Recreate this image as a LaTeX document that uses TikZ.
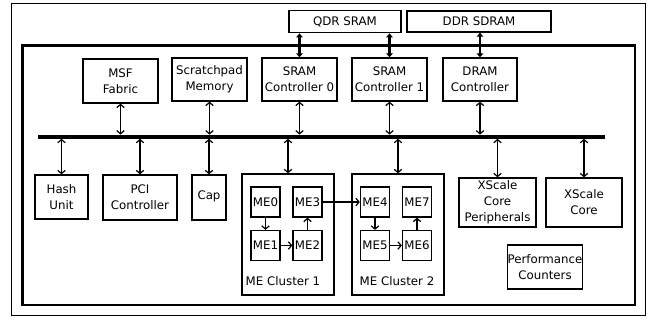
\documentclass[tikz,border=0pt]{standalone}
\usepackage{fontspec}
\setmainfont{DejaVu Sans}
\usetikzlibrary{arrows.meta}
\begin{document}
\begin{tikzpicture}[x=1pt,y=-1pt,
  font=\fontsize{11.8}{16}\selectfont,
  unit/.style={draw,line width=1.3pt,inner sep=0pt,align=center,
    minimum width=#1},
  unit/.default=75pt,
  me/.style={draw,line width=1.3pt,inner sep=0pt,minimum width=29pt,minimum height=30pt},
  link/.style={line width=1.2pt,{Straight Barb[length=3.2pt,width=7.5pt]}-{Straight Barb[length=3.2pt,width=7.5pt]}},
  onelink/.style={line width=1.2pt,-{Straight Barb[length=3.2pt,width=7.5pt]}},
  memlink/.style={line width=2.3pt,{Triangle[length=4pt,width=6.5pt]}-{Triangle[length=4pt,width=6.5pt]}}]
\useasboundingbox (0,0) rectangle (654,320);

% chip outline
\draw[line width=0.9pt] (11,3) rectangle (645,315);
\draw[line width=2.8pt] (22.7,45.7) rectangle (635,305);

% external memories
\node[unit, minimum width=112pt, minimum height=22pt] (qdr) at (345,21.7) {QDR SRAM};
\node[unit, minimum width=144pt, minimum height=21pt] (ddr) at (479,21.5) {DDR SDRAM};

% units above the bus
\node[unit, minimum height=44pt] (msf) at (120.5,81) {MSF\\Fabric};
\node[unit, minimum height=43pt] (scr) at (209.5,79.5) {Scratchpad\\Memory};
\node[unit, minimum height=43pt] (sr0) at (299.5,79.5) {SRAM\\Controller 0};
\node[unit, minimum height=43pt] (sr1) at (389.5,79.5) {SRAM\\Controller 1};
\node[unit=74pt, minimum height=43pt] (drc) at (480,79.5) {DRAM\\Controller};

% internal bus
\coordinate (busL) at (38,136.7);
\coordinate (busR) at (605,136.7);
\coordinate (busT) at (0,134.6);
\coordinate (busB) at (0,138.8);
\draw[line width=4.2pt] (busL) -- (busR);

% units below the bus
\node[unit=53pt, minimum height=44pt] (hash) at (61.5,197) {Hash\\Unit};
\node[unit=74pt, minimum height=45pt] (pci) at (140,197.5) {PCI\\Controller};
\node[unit=34pt, minimum height=45pt] (cap) at (209,197.5) {\raisebox{4pt}{Cap}};
\node[unit=92pt, minimum height=121pt] (cl1) at (288,234.5) {};
\node[unit=92pt, minimum height=121pt] (cl2) at (398,234.5) {};
\node[unit=77pt, minimum height=49pt] (xcp) at (497.5,202.5) {XScale\\Core\\Peripherals};
\node[unit=76pt, minimum height=49pt] (xsc) at (584,202.5) {XScale\\Core};
\node[unit=74pt, minimum height=44pt] (perf) at (545,267) {Performance\\Counters};

% microengines
\node[me] (me0) at (265.5,202) {ME0};
\node[me] (me3) at (307.5,202) {ME3};
\node[me] (me1) at (265.5,245.5) {ME1};
\node[me] (me2) at (307.5,245.5) {ME2};
\node[me] (me4) at (375,202) {ME4};
\node[me] (me7) at (417,202) {ME7};
\node[me] (me5) at (375,245.5) {ME5};
\node[me] (me6) at (417,245.5) {ME6};
\node (lab1) at (283,281) {ME Cluster 1};
\node (lab2) at (397,281) {ME Cluster 2};

% memory channels
\draw[memlink] (qdr.south -| sr0) -- (sr0.north);
\draw[memlink] (qdr.south -| sr1) -- (sr1.north);
\draw[memlink] (ddr.south -| drc) -- (drc.north);

% bus connections
\foreach \u in {msf,scr,sr0,sr1,drc}
  \draw[link] (\u.south) -- (\u.south |- busT);
\foreach \u in {hash,pci,cap,cl1,cl2,xcp,xsc}
  \draw[link] (\u.north |- busB) -- (\u.north);

% microengine chain
\draw[onelink] (me0) -- (me1);
\draw[onelink] (me1) -- (me2);
\draw[onelink] (me2) -- (me3);
\draw[onelink] (me3) -- (me4);
\draw[onelink] (me4) -- (me5);
\draw[onelink] (me5) -- (me6);
\draw[onelink] (me6) -- (me7);
\end{tikzpicture}
\end{document}
